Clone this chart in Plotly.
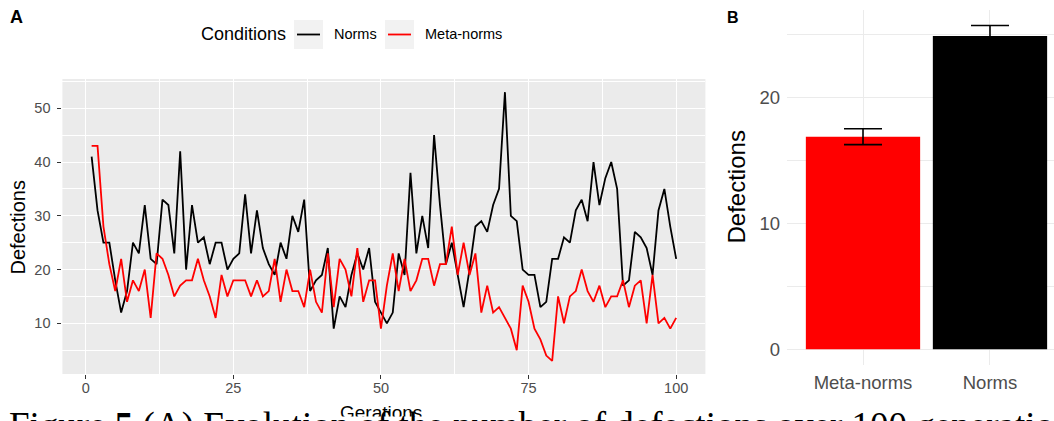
import plotly.graph_objects as go

# ---------------- data ----------------
generations = list(range(1, 101))
norms = [41, 31, 25, 25, 18, 12, 16, 25, 23, 32,
         22, 21, 33, 32, 23, 42, 20, 32, 25, 26,
         21, 25, 25, 20, 22, 23, 34, 23, 31, 24,
         21, 19, 25, 22, 30, 27, 33, 16, 18, 19,
         24, 9, 15, 13, 19, 23, 20, 24, 14, 12,
         10, 12, 23, 19, 38, 23, 30, 24, 45, 32,
         21, 25, 19, 13, 20, 28, 29, 27, 32, 35,
         53, 30, 29, 20, 19, 19, 13, 14, 22, 22,
         26, 25, 31, 33, 29, 40, 32, 37, 40, 35,
         17, 18, 27, 26, 24, 19, 31, 35, 28, 22]
meta_norms = [43, 43, 28, 21, 16, 22, 14, 18, 16, 20,
              11, 23, 22, 19, 15, 17, 18, 18, 22, 18,
              15, 11, 19, 15, 18, 18, 18, 15, 18, 15,
              16, 22, 14, 20, 16, 16, 13, 20, 14, 12,
              23, 13, 22, 20, 15, 24, 14, 18, 18, 9,
              17, 23, 16, 22, 16, 18, 22, 22, 17, 21,
              21, 28, 19, 25, 19, 23, 12, 17, 12, 13,
              11, 9, 5, 17, 14, 9, 7, 4, 3, 15,
              10, 15, 16, 20, 16, 14, 17, 13, 15, 15,
              18, 13, 17, 18, 10, 19, 10, 11, 9, 11]

bar_conditions = ["Meta-norms", "Norms"]
bar_means = [16.9, 24.9]
bar_se = [0.63, 0.84]
bar_colors = ["#FF0000", "#000000"]

x_ticks_a = [0, 25, 50, 75, 100]
y_ticks_a = [10, 20, 30, 40, 50]
y_ticks_b = [0, 10, 20]

# ---------------- helpers ----------------
W, H = 1054, 421


def px(x):
    return x / W


def py(y):
    return 1 - y / H


SANS = "Liberation Sans, Arial, Helvetica, sans-serif"
SERIF = "Liberation Serif, Times New Roman, DejaVu Serif, serif"
TICK_GREY = "#4D4D4D"

fig = go.Figure()

fig.add_trace(go.Scatter(x=generations, y=norms, mode="lines", name="Norms",
                         line=dict(color="#000000", width=1.8),
                         xaxis="x", yaxis="y", showlegend=False))
fig.add_trace(go.Scatter(x=generations, y=meta_norms, mode="lines", name="Meta-norms",
                         line=dict(color="#FF0000", width=1.8),
                         xaxis="x", yaxis="y", showlegend=False))

bar_pos = list(range(1, len(bar_conditions) + 1))
fig.add_trace(go.Bar(x=bar_pos, y=bar_means, width=0.9,
                     marker=dict(color=bar_colors, line=dict(width=0)),
                     error_y=dict(type="data", array=bar_se, color="#000000",
                                  thickness=1.6, width=19),
                     xaxis="x2", yaxis="y2", showlegend=False))

# ---------------- layout ----------------
fig.update_layout(
    width=W, height=H,
    margin=dict(l=0, r=0, t=0, b=0),
    paper_bgcolor="white", plot_bgcolor="rgba(0,0,0,0)",
    showlegend=False,
    xaxis=dict(domain=[px(62.4), px(705.4)], range=[-3.95, 104.95],
               tickvals=x_ticks_a, showgrid=True, gridcolor="white", gridwidth=1.1,
               minor=dict(dtick=12.5, tick0=0, showgrid=True, gridcolor="white", gridwidth=0.55),
               ticks="outside", ticklen=4, tickwidth=1.1, tickcolor="#333333",
               ticklabelstandoff=-3,
               tickfont=dict(family=SANS, size=14.5, color=TICK_GREY),
               zeroline=False, showline=False, anchor="y"),
    yaxis=dict(domain=[py(374), py(79)], range=[0.57, 55.45],
               tickvals=y_ticks_a, showgrid=True, gridcolor="white", gridwidth=1.1,
               minor=dict(dtick=5, tick0=0, showgrid=True, gridcolor="white", gridwidth=0.55),
               ticks="outside", ticklen=4, tickwidth=1.1, tickcolor="#333333",
               ticklabelstandoff=4,
               tickfont=dict(family=SANS, size=14.5, color=TICK_GREY),
               zeroline=False, showline=False, anchor="x"),
    xaxis2=dict(domain=[px(787), 1.0], range=[0.4016, 2.504],
                tickvals=bar_pos, ticktext=bar_conditions,
                showgrid=True, gridcolor="#EBEBEB", gridwidth=1.1, ticks="",
                ticklabelstandoff=4,
                tickfont=dict(family=SANS, size=18.5, color=TICK_GREY),
                zeroline=False, showline=False, anchor="y2"),
    yaxis2=dict(domain=[py(365), py(10)], range=[-1.25, 26.97],
                tickvals=y_ticks_b, showgrid=True, gridcolor="#EBEBEB", gridwidth=1.1,
                minor=dict(dtick=5, tick0=0, showgrid=True, gridcolor="#EBEBEB", gridwidth=0.6),
                ticks="", ticklabelstandoff=6,
                tickfont=dict(family=SANS, size=18.5, color=TICK_GREY),
                zeroline=False, showline=False, anchor="x2"),
)

shapes = [
    # grey panel background for panel A
    dict(type="rect", xref="x domain", yref="y domain", x0=0, x1=1, y0=0, y1=1,
         fillcolor="#EBEBEB", line=dict(width=0), layer="below"),
    # legend key backgrounds
    dict(type="rect", xref="paper", yref="paper", x0=px(294), x1=px(323), y0=py(49), y1=py(20),
         fillcolor="#F2F2F2", line=dict(width=0)),
    dict(type="rect", xref="paper", yref="paper", x0=px(385), x1=px(414), y0=py(49), y1=py(20),
         fillcolor="#F2F2F2", line=dict(width=0)),
    # legend key lines
    dict(type="line", xref="paper", yref="paper", x0=px(297), x1=px(320), y0=py(34.5), y1=py(34.5),
         line=dict(color="#000000", width=1.8)),
    dict(type="line", xref="paper", yref="paper", x0=px(388), x1=px(411), y0=py(34.5), y1=py(34.5),
         line=dict(color="#FF0000", width=1.8)),
]
fig.update_layout(shapes=shapes)

annotations = [
    dict(text="<b>A</b>", x=px(8), y=py(17), xanchor="left", yanchor="middle",
         font=dict(family=SANS, size=18, color="black")),
    dict(text="<b>B</b>", x=px(725), y=py(17.5), xanchor="left", yanchor="middle",
         font=dict(family=SANS, size=16, color="black")),
    dict(text="Conditions", x=px(199), y=py(34), xanchor="left", yanchor="middle",
         font=dict(family=SANS, size=18, color="black")),
    dict(text="Norms", x=px(332), y=py(34.5), xanchor="left", yanchor="middle",
         font=dict(family=SANS, size=14.5, color="black")),
    dict(text="Meta-norms", x=px(423), y=py(34.5), xanchor="left", yanchor="middle",
         font=dict(family=SANS, size=14.5, color="black")),
    dict(text="Defections", textangle=-90, x=px(17.5), y=py(227), xanchor="center", yanchor="middle",
         font=dict(family=SANS, size=20, color="black")),
    dict(text="Defections", textangle=-90, x=px(736), y=py(187.5), xanchor="center", yanchor="middle",
         font=dict(family=SANS, size=24, color="black")),
    dict(text="Gerations", x=px(381), y=py(400), xanchor="center", yanchor="top",
         font=dict(family=SANS, size=19, color="black")),
    # band where the figure image ends and the page caption begins
    dict(text=" ", x=0, y=py(416), xanchor="left", yanchor="top", width=W, height=20,
         bgcolor="white", borderpad=0, showarrow=False),
    dict(text="Figure <b>5</b> (A) Evolution of the number of defections over 100 generations",
         x=px(7), y=py(403), xanchor="left", yanchor="top",
         font=dict(family=SERIF, size=37, color="black")),
]
for a in annotations:
    a.setdefault("xref", "paper")
    a.setdefault("yref", "paper")
    a.setdefault("showarrow", False)
fig.update_layout(annotations=annotations)

fig.write_html("out.html", config={"displayModeBar": False},
               post_script="document.body.style.margin='0';")
